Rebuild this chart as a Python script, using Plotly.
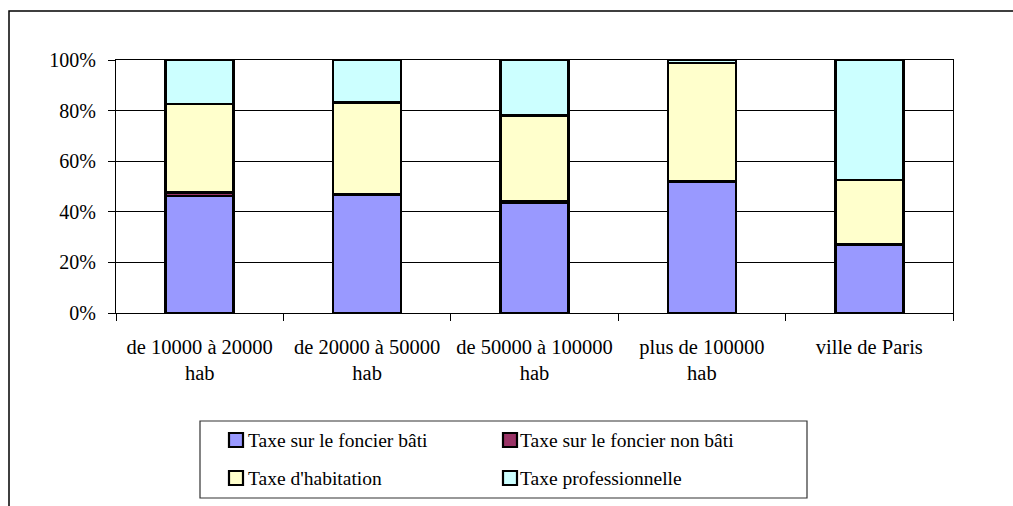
import plotly.graph_objects as go

# Répartition des recettes fiscales par taille de commune (en %)
categories = ["de 10000 à 20000<br>hab", "de 20000 à 50000<br>hab",
              "de 50000 à 100000<br>hab", "plus de 100000<br>hab", "ville de Paris"]
series_names = ["Taxe sur le foncier bâti", "Taxe sur le foncier non bâti",
                "Taxe d'habitation", "Taxe professionnelle"]
foncier_bati = [46.2, 46.6, 43.6, 51.8, 27.0]
foncier_non_bati = [1.4, 0.4, 0.6, 0.4, 0.2]
habitation = [35.0, 36.3, 33.9, 46.6, 25.4]
professionnelle = [17.4, 16.7, 21.9, 1.2, 47.4]
y_ticks = [0, 20, 40, 60, 80, 100]
y_tick_labels = ["0%", "20%", "40%", "60%", "80%", "100%"]

colors = ["#9999FF", "#993366", "#FFFFCC", "#CCFFFF"]
series_values = [foncier_bati, foncier_non_bati, habitation, professionnelle]

W, H = 1013, 506
L, R, T, B = 116, 60, 60, 193
PW, PH = W - L - R, H - T - B
FONT = "'Liberation Serif', Tinos, 'Times New Roman', 'DejaVu Serif', serif"


def px_x(x):
    return (x - L) / PW


def px_y(y):
    return (H - B - y) / PH


fig = go.Figure()
for name, vals, col in zip(series_names, series_values, colors):
    fig.add_trace(go.Bar(
        x=categories, y=vals, name=name,
        marker=dict(color=col, line=dict(color="#000000", width=2.5)),
        showlegend=False,
    ))

shapes = []
annotations = []

# outer chart frame
shapes.append(dict(type="rect", xref="paper", yref="paper",
                   x0=px_x(9), x1=px_x(1030), y0=px_y(520), y1=px_y(11),
                   line=dict(color="#000000", width=1.5), fillcolor="rgba(0,0,0,0)", layer="below"))

# legend box
shapes.append(dict(type="rect", xref="paper", yref="paper",
                   x0=px_x(200), x1=px_x(807), y0=px_y(498), y1=px_y(421),
                   line=dict(color="#333333", width=1.2), fillcolor="#FFFFFF", layer="below"))

swatch_x = [236, 510]
text_x = [246, 518]
row_y = [440, 478]
order = [(0, 0), (1, 0), (0, 1), (1, 1)]  # (column, row) per series
for (ci, ri), name, col in zip(order, series_names, colors):
    cx, cy = swatch_x[ci], row_y[ri]
    shapes.append(dict(type="rect", xref="paper", yref="paper",
                       x0=px_x(cx - 7), x1=px_x(cx + 7), y0=px_y(cy + 7), y1=px_y(cy - 7),
                       line=dict(color="#000000", width=2.2), fillcolor=col))
    annotations.append(dict(xref="paper", yref="paper", x=px_x(text_x[ci]), y=px_y(cy),
                            xanchor="left", yanchor="middle", showarrow=False, text=name,
                            font=dict(family=FONT, size=19.5, color="#000000")))

fig.update_layout(
    width=W, height=H,
    margin=dict(l=L, r=R, t=T, b=B, pad=0),
    barmode="stack",
    bargap=0.594,
    plot_bgcolor="#FFFFFF", paper_bgcolor="#FFFFFF",
    font=dict(family=FONT, size=20, color="#000000"),
    shapes=shapes,
    annotations=annotations,
    showlegend=False,
)
fig.update_xaxes(
    showline=True, linecolor="#000000", linewidth=1, mirror=True,
    ticks="outside", tickson="boundaries", ticklen=7, tickcolor="#000000",
    showgrid=False, tickfont=dict(family=FONT, size=20.5), ticklabelstandoff=15,
)
fig.update_yaxes(
    range=[0, 100], tickmode="array", tickvals=y_ticks, ticktext=y_tick_labels,
    showline=True, linecolor="#000000", linewidth=1, mirror=True,
    ticks="outside", ticklen=7, tickcolor="#000000",
    showgrid=True, gridcolor="#000000", gridwidth=1, zeroline=False,
    tickfont=dict(family=FONT, size=20), ticklabelstandoff=8,
)

fig.write_html("out.html")
